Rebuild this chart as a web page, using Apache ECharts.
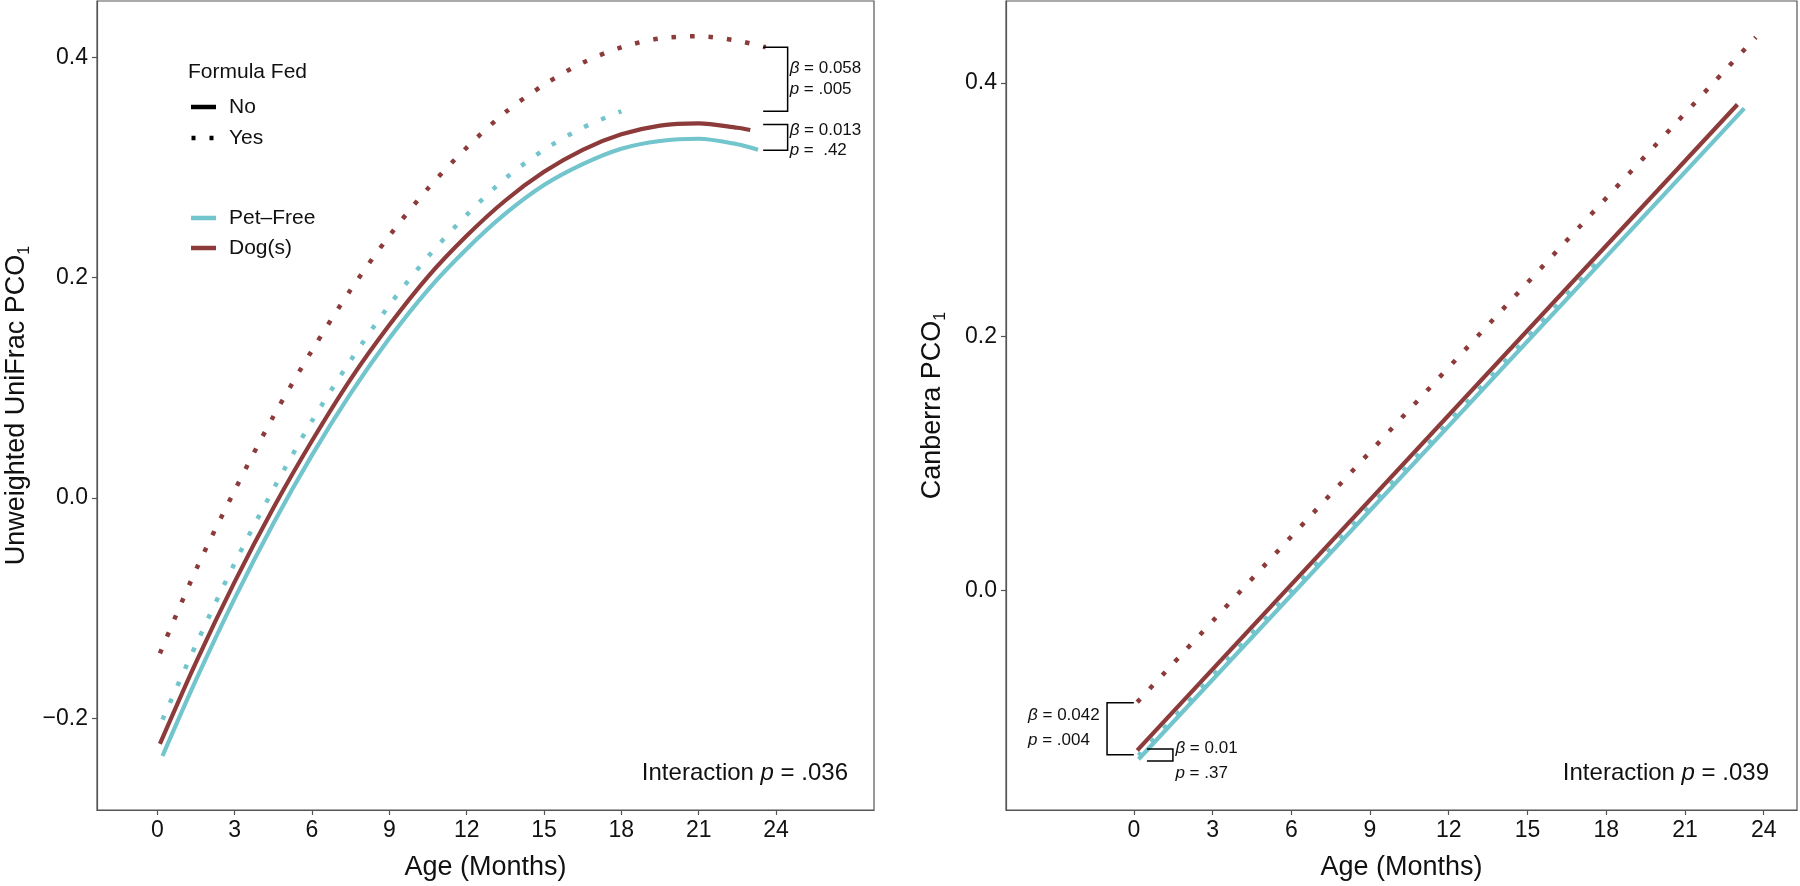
<!DOCTYPE html>
<html><head><meta charset="utf-8">
<script src="https://cdn.jsdelivr.net/npm/echarts@6/dist/echarts.min.js"></script>
<style>html,body{margin:0;padding:0;background:#fff}#c{width:1800px;height:886px}</style>
</head><body><div id="c"></div>
<script>
// ---------- DATA ----------
// Left panel: Unweighted UniFrac PCO1 vs age (months)
const uniPetNoAges  = [0.2,1.5,3,4.5,6,7.5,9,10.5,12,13.5,15,16.5,18,19.5,21,22.5,23.3];
const uniPetNo      = [-0.234,-0.165,-0.091,-0.023,0.039,0.095,0.145,0.189,0.226,0.258,0.284,0.303,0.317,0.324,0.326,0.321,0.316];
const uniDogNoAges  = [0.1,1.5,3,4.5,6,7.5,9,10.5,12,13.5,15,16.5,18,19.5,21,22.5,23.0];
const uniDogNo      = [-0.223,-0.149,-0.076,-0.009,0.052,0.108,0.157,0.201,0.238,0.270,0.296,0.316,0.330,0.338,0.340,0.336,0.334];
const uniPetYesAges = [0.2,1.5,3,4.5,6,7.5,9,10.5,12,13.5,15,16.5,18];
const uniPetYes     = [-0.201,-0.133,-0.059,0.008,0.070,0.125,0.175,0.219,0.257,0.290,0.316,0.336,0.351];
const uniDogYesAges = [0.1,1.5,3,4.5,6,7.5,9,10.5,12,13.5,15,16.5,18,19.5,21,22.5,23.6];
const uniDogYes     = [-0.141,-0.065,0.007,0.074,0.134,0.189,0.238,0.281,0.318,0.350,0.375,0.395,0.409,0.417,0.419,0.415,0.409];
// Right panel: Canberra PCO1 vs age (months)
const canPetNoAges  = [0.18, 23.26];
const canPetNo      = [-0.133, 0.380];
const canDogNoAges  = [0.13, 23.0];
const canDogNo      = [-0.126, 0.383];
const canPetYesAges = [0.18, 17.67];
const canPetYes     = [-0.130, 0.259];
const canDogYesAges = [0.13, 23.7];
const canDogYes     = [-0.088, 0.436];
// ticks
const xTicks = [0,3,6,9,12,15,18,21,24];
const yTicksLeft = [-0.2,0,0.2,0.4];
const yTicksRight = [0,0.2,0.4];

// ---------- STYLE ----------
const FONT = '"Liberation Sans", Arial, Helvetica, sans-serif';
const TEAL = '#72C5CD', RED = '#8C3A3A', GRAY = '#555555', INK = '#111111';
const zip = (a, b) => a.map((x, i) => [x, b[i]]);
const yFmt = v => (v < 0 ? '\u2212' : '') + Math.abs(v).toFixed(1);

function xAxis(gi, min, max) {
  return {
    gridIndex: gi, type: 'value', min, max,
    axisLine: {show: true, onZero: false, lineStyle: {color: GRAY, width: 1.2}},
    axisTick: {show: true, length: 5, customValues: xTicks, lineStyle: {color: GRAY, width: 1.2}},
    axisLabel: {customValues: xTicks, fontSize: 23, color: INK, fontFamily: FONT, margin: 9},
    splitLine: {show: false},
    name: 'Age (Months)', nameLocation: 'middle', nameGap: 44,
    nameTextStyle: {fontSize: 27, color: INK, fontFamily: FONT}
  };
}
function yAxis(gi, min, max, ticks, name, gap) {
  return {
    gridIndex: gi, type: 'value', min, max,
    axisLine: {show: true, onZero: false, lineStyle: {color: GRAY, width: 1.2}},
    axisTick: {show: true, length: 5, customValues: ticks, lineStyle: {color: GRAY, width: 1.2}},
    axisLabel: {customValues: ticks, formatter: yFmt, fontSize: 23, color: INK, fontFamily: FONT, margin: 9},
    splitLine: {show: false},
    name: name, nameLocation: 'middle', nameGap: gap,
    nameTextStyle: {fontSize: 27, color: INK, fontFamily: FONT, lineHeight: 32,
      rich: {s: {fontSize: 16, fontFamily: FONT, color: INK, verticalAlign: 'bottom', lineHeight: 18}}}
  };
}
function line(gi, ages, vals, color, dotted) {
  return {
    type: 'line', xAxisIndex: gi, yAxisIndex: gi, data: zip(ages, vals),
    showSymbol: false, smooth: 0.3, silent: true,
    lineStyle: dotted ? {color, width: 4.5, type: [4.5, 14], cap: 'butt'} : {color, width: 4.2}
  };
}

const option = {
  animation: false,
  backgroundColor: '#ffffff',
  grid: [
    {left: 97, top: 1, width: 777, height: 810, show: true, borderColor: GRAY, borderWidth: 1.2, containLabel: false},
    {left: 1006, top: 1, width: 791, height: 810, show: true, borderColor: GRAY, borderWidth: 1.2, containLabel: false}
  ],
  xAxis: [xAxis(0, -2.34, 27.8), xAxis(1, -4.87, 25.27)],
  yAxis: [
    yAxis(0, -0.283, 0.451, yTicksLeft, 'Unweighted UniFrac PCO{s|1}', 64),
    yAxis(1, -0.173, 0.4646, yTicksRight, 'Canberra PCO{s|1}', 57)
  ],
  series: [
    line(0, uniPetNoAges, uniPetNo, TEAL, false),
    line(0, uniDogNoAges, uniDogNo, RED, false),
    line(0, uniPetYesAges, uniPetYes, TEAL, true),
    line(0, uniDogYesAges, uniDogYes, RED, true),
    line(1, canPetNoAges, canPetNo, TEAL, false),
    line(1, canDogNoAges, canDogNo, RED, false),
    line(1, canPetYesAges, canPetYes, TEAL, true),
    line(1, canDogYesAges, canDogYes, RED, true)
  ]
};

const chart = echarts.init(document.getElementById('c'), null, {renderer: 'canvas'});
chart.setOption(option);

// ---------- ANNOTATIONS ----------
const P = (gi, x, y) => chart.convertToPixel({gridIndex: gi}, [x, y]);
const g = [];
function txt(x, y, text, size, align, rich) {
  g.push({type: 'text', z: 100, style: {x, y, text, fontSize: size, fontFamily: FONT, fill: INK,
    align: align || 'left', verticalAlign: 'middle', rich: rich || undefined}});
}
function poly(pts) {
  g.push({type: 'polyline', z: 100, shape: {points: pts}, style: {stroke: '#000', lineWidth: 1.5, fill: null}});
}
const annRich = s => ({i: {fontStyle: 'italic', fontSize: s, fontFamily: FONT, fill: INK},
                       n: {fontSize: s, fontFamily: FONT, fill: INK}});

// Left brackets
{
  const a = P(0, 23.5, 0.409), b = P(0, 24.45, 0.409), c = P(0, 24.45, 0.351), d = P(0, 23.5, 0.351);
  poly([a, b, c, d]);
  const mid = (b[1] + c[1]) / 2;
  txt(b[0] + 2, mid - 10.5, '{i|β}{n| = 0.058}', 17, 'left', annRich(17));
  txt(b[0] + 2, mid + 10.5, '{i|p}{n| = .005}', 17, 'left', annRich(17));
  const e = P(0, 23.5, 0.339), f = P(0, 24.45, 0.339), h = P(0, 24.45, 0.3155), k = P(0, 23.5, 0.3155);
  poly([e, f, h, k]);
  txt(f[0] + 2, f[1] + 6, '{i|β}{n| = 0.013}', 17, 'left', annRich(17));
  txt(f[0] + 2, f[1] + 26, '{i|p}{n| =  .42}', 17, 'left', annRich(17));
}
// Right brackets
{
  const a = P(1, 0, -0.0885), b = P(1, -1.02, -0.0885), c = P(1, -1.02, -0.1294), d = P(1, 0, -0.1294);
  poly([a, b, c, d]);
  const mid = (b[1] + c[1]) / 2;
  txt(b[0] - 79, mid - 13, '{i|β}{n| = 0.042}', 17, 'left', annRich(17));
  txt(b[0] - 79, mid + 12, '{i|p}{n| = .004}', 17, 'left', annRich(17));
  const e = P(1, 0.5, -0.125), f = P(1, 1.49, -0.125), h = P(1, 1.49, -0.1344), k = P(1, 0.5, -0.1344);
  poly([e, f, h, k]);
  txt(f[0] + 2.5, f[1] - 1, '{i|β}{n| = 0.01}', 17, 'left', annRich(17));
  txt(f[0] + 2.5, f[1] + 24, '{i|p}{n| = .37}', 17, 'left', annRich(17));
}
// Interaction texts
txt(848, 773, '{n|Interaction }{i|p}{n| = .036}', 24, 'right', annRich(24));
txt(1769, 773, '{n|Interaction }{i|p}{n| = .039}', 24, 'right', annRich(24));

// Legend
txt(188, 72, 'Formula Fed', 21, 'left');
g.push({type: 'line', z: 100, shape: {x1: 191, y1: 107, x2: 216, y2: 107}, style: {stroke: '#000', lineWidth: 4.5}});
g.push({type: 'line', z: 100, shape: {x1: 191.5, y1: 138, x2: 216, y2: 138}, style: {stroke: '#000', lineWidth: 4.5, lineDash: [4, 14]}});
txt(229, 107, 'No', 21, 'left');
txt(229, 138, 'Yes', 21, 'left');
g.push({type: 'line', z: 100, shape: {x1: 191, y1: 218, x2: 216, y2: 218}, style: {stroke: TEAL, lineWidth: 4.5}});
g.push({type: 'line', z: 100, shape: {x1: 191, y1: 248, x2: 216, y2: 248}, style: {stroke: RED, lineWidth: 4.5}});
txt(229, 218, 'Pet\u2013Free', 21, 'left');
txt(229, 248, 'Dog(s)', 21, 'left');

chart.setOption({graphic: g});
</script>
</body></html>
